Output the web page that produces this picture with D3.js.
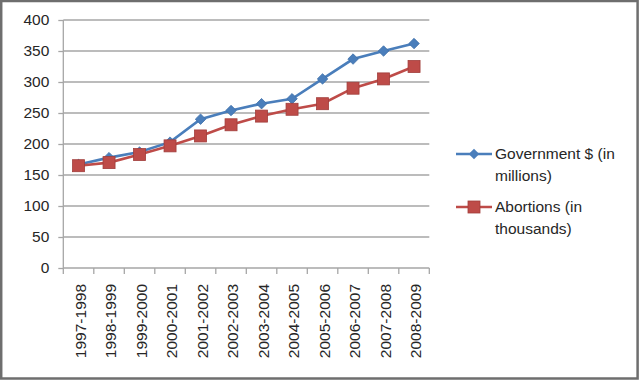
<!DOCTYPE html>
<html><head><meta charset="utf-8">
<script src="https://cdn.jsdelivr.net/npm/d3@7"></script>
<style>body{margin:0;background:#fff}svg{display:block}</style>
</head><body>
<script>
const categories = ["1997-1998","1998-1999","1999-2000","2000-2001","2001-2002","2002-2003","2003-2004","2004-2005","2005-2006","2006-2007","2007-2008","2008-2009"];
const government = [167,178,187,203,240,254,265,273,305,337,350,362];
const abortions = [165,170,183,197,213,231,245,256,265,290,305,325];
const yTicks = [0,50,100,150,200,250,300,350,400];
const seriesNames = ["Government $ (in millions)","Abortions (in thousands)"];

const W=640,H=381;
const svg=d3.select("body").append("svg").attr("width",W).attr("height",H);
svg.append("rect").attr("x",1.2).attr("y",1).attr("width",W-3.6).attr("height",H-3.5)
  .attr("fill","#fff").attr("stroke","#6e6e6e").attr("stroke-width",2.5);

const font="'Liberation Sans', Arial, sans-serif";
const x=d3.scaleBand().domain(categories).range([63.3,429.3]);
const y=d3.scaleLinear().domain([0,400]).range([268,20]);

// gridlines
svg.append("g").selectAll("line").data(yTicks.filter(d=>d>0)).join("line")
  .attr("x1",63.3).attr("x2",429.3).attr("y1",d=>y(d)).attr("y2",d=>y(d))
  .attr("stroke","#a6a6a6").attr("stroke-width",1.3);

// y axis
const ya=svg.append("g").attr("transform","translate(63.3,0)")
  .call(d3.axisLeft(y).tickValues(yTicks).tickSize(5).tickPadding(9));
ya.select(".domain").attr("stroke","#a6a6a6").attr("stroke-width",1.3).attr("d","M0,20V268");
ya.selectAll(".tick line").attr("stroke","#a6a6a6").attr("stroke-width",1.3);
ya.selectAll("text").attr("font-family",font).attr("font-size",15.5).attr("fill","#262626");

// x axis
const xa=svg.append("g").attr("transform","translate(0,268)")
  .call(d3.axisBottom(x).tickSize(0).tickPadding(0));
xa.select(".domain").attr("stroke","#a6a6a6").attr("stroke-width",1.3).attr("d","M63.3,0H429.3");
xa.selectAll(".tick line").remove();
const bounds=[...categories.map(c=>x(c)),x.range()[1]];
xa.append("g").selectAll("line").data(bounds).join("line")
  .attr("x1",d=>d).attr("x2",d=>d).attr("y1",0).attr("y2",6)
  .attr("stroke","#a6a6a6").attr("stroke-width",1.3);
xa.selectAll(".tick text").attr("font-family",font).attr("font-size",15.5).attr("fill","#262626")
  .attr("transform","rotate(-90)").attr("text-anchor","end").attr("x",-16).attr("y",2).attr("dy","0.35em");

const cx=c=>x(c)+x.bandwidth()/2;
const line=d3.line().x(d=>cx(d.c)).y(d=>y(d.v));
const gov=categories.map((c,i)=>({c,v:government[i]}));
const abo=categories.map((c,i)=>({c,v:abortions[i]}));
const blue="#4a7ebb", red="#be4b48";

svg.append("path").datum(gov).attr("d",line).attr("fill","none").attr("stroke",blue).attr("stroke-width",2.6);
svg.append("path").datum(abo).attr("d",line).attr("fill","none").attr("stroke",red).attr("stroke-width",2.6);

const diamond=d3.symbol().type(d3.symbolDiamond2).size(70);
svg.append("g").selectAll("path").data(gov).join("path")
  .attr("d",diamond).attr("transform",d=>`translate(${cx(d.c)},${y(d.v)})`)
  .attr("fill",blue).attr("stroke","#3d6ea8").attr("stroke-width",0.8);
svg.append("g").selectAll("rect").data(abo).join("rect")
  .attr("x",d=>cx(d.c)-6).attr("y",d=>y(d.v)-6).attr("width",12).attr("height",12)
  .attr("fill",red).attr("stroke","#a13d3b").attr("stroke-width",0.8);

// legend
const lg=svg.append("g");
const items=[{name:["Government $ (in","millions)"],color:blue,type:"d",y:154},
             {name:["Abortions (in","thousands)"],color:red,type:"s",y:207}];
items.forEach(it=>{
  lg.append("line").attr("x1",456).attr("x2",492).attr("y1",it.y).attr("y2",it.y)
    .attr("stroke",it.color).attr("stroke-width",2.6);
  if(it.type==="d") lg.append("path").attr("d",diamond).attr("transform",`translate(474,${it.y})`).attr("fill",it.color);
  else lg.append("rect").attr("x",468).attr("y",it.y-6).attr("width",12).attr("height",12).attr("fill",it.color).attr("stroke","#a13d3b").attr("stroke-width",0.8);
  const t=lg.append("text").attr("x",495).attr("y",it.y+5).attr("font-family",font).attr("font-size",15.5).attr("fill","#262626");
  it.name.forEach((s,i)=>t.append("tspan").attr("x",495).attr("dy",i?21.5:0).text(s));
});
</script>
</body></html>
